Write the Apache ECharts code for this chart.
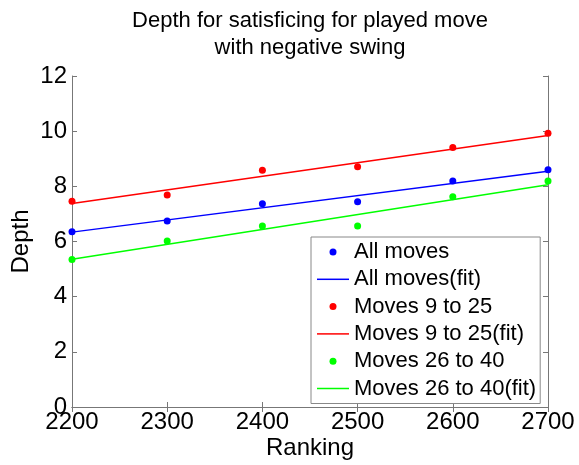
<!DOCTYPE html>
<html>
<head>
<meta charset="utf-8">
<script src="https://cdn.jsdelivr.net/npm/echarts@6/dist/echarts.min.js"></script>
<style>
  html, body { margin: 0; padding: 0; background: #fff; }
  #chart { width: 579px; height: 465px; }
</style>
</head>
<body>
<div id="chart"></div>
<script>
const rankings = [2200, 2300, 2400, 2500, 2600, 2700];
const allMoves = [6.35, 6.74, 7.37, 7.44, 8.19, 8.60];
const moves9to25 = [7.46, 7.69, 8.58, 8.71, 9.41, 9.92];
const moves26to40 = [5.35, 6.02, 6.56, 6.56, 7.62, 8.19];

// fitted lines, read at both ends of the x range
const fitX = [2200, 2700];
const allMovesFit = [6.34, 8.55];
const moves9to25Fit = [7.38, 9.84];
const moves26to40Fit = [5.36, 8.06];

const FONT = '"Liberation Sans", Arial, Helvetica, sans-serif';
const AXIS_COLOR = '#777';
const LINE_ICON = 'path://M0,0L32,0L32,1.5L0,1.5Z';

const pairs = (xs, ys) => xs.map((x, i) => [x, ys[i]]);

const dots = (name, values, color) => ({
    name,
    type: 'scatter',
    data: pairs(rankings, values),
    symbol: 'circle',
    symbolSize: 7,
    itemStyle: { color, opacity: 1 },
    xAxisIndex: 0,
    yAxisIndex: 0,
    silent: true,
});

const fit = (name, values, color) => ({
    name,
    type: 'line',
    data: pairs(fitX, values),
    symbol: 'none',
    lineStyle: { color, width: 1.5 },
    itemStyle: { color },
    xAxisIndex: 0,
    yAxisIndex: 0,
    silent: true,
});

const chart = echarts.init(document.getElementById('chart'));

const sideAxis = {
    axisLine: { show: true, lineStyle: { color: AXIS_COLOR, width: 1 } },
    axisTick: { show: true, inside: true, length: 5, lineStyle: { color: AXIS_COLOR } },
    splitLine: { show: false },
};

chart.setOption({
    animation: false,
    backgroundColor: '#fff',
    textStyle: { fontFamily: FONT },
    title: {
        text: 'Depth for satisficing for played move\nwith negative swing',
        left: 310,
        top: 7,
        padding: 0,
        textAlign: 'center',
        textStyle: {
            fontFamily: FONT,
            fontSize: 22,
            fontWeight: 'normal',
            lineHeight: 27,
            color: '#000',
        },
    },
    grid: {
        left: 72,
        right: 31,
        top: 76,
        bottom: 58,
        outerBoundsMode: 'none',
    },
    xAxis: [
        {
            type: 'value',
            min: 2200,
            max: 2700,
            interval: 100,
            position: 'bottom',
            name: 'Ranking',
            nameLocation: 'middle',
            nameGap: 29,
            nameMoveOverlap: false,
            nameTextStyle: { fontFamily: FONT, fontSize: 24, color: '#000' },
            axisLabel: {
                fontFamily: FONT, fontSize: 24, color: '#000', margin: 3,
                formatter: (v) => String(v),
            },
            ...sideAxis,
        },
        {
            type: 'value',
            min: 2200,
            max: 2700,
            interval: 100,
            position: 'top',
            axisLabel: { show: false },
            ...sideAxis,
        },
    ],
    yAxis: [
        {
            type: 'value',
            min: 0,
            max: 12,
            interval: 2,
            position: 'left',
            name: 'Depth',
            nameLocation: 'middle',
            nameGap: 39,
            nameMoveOverlap: false,
            nameTextStyle: { fontFamily: FONT, fontSize: 24, color: '#000' },
            axisLabel: { fontFamily: FONT, fontSize: 24, color: '#000', margin: 5 },
            ...sideAxis,
        },
        {
            type: 'value',
            min: 0,
            max: 12,
            interval: 2,
            position: 'right',
            axisLabel: { show: false },
            ...sideAxis,
        },
    ],
    legend: {
        orient: 'vertical',
        left: 311,
        top: 237,
        padding: [4, 4, 4, 6],
        itemWidth: 32,
        itemHeight: 7,
        itemGap: 5.3,
        selectedMode: false,
        backgroundColor: '#fff',
        borderColor: '#888',
        borderWidth: 1,
        borderRadius: 0,
        itemStyle: { borderWidth: 0, opacity: 1 },
        textStyle: { fontFamily: FONT, fontSize: 22, lineHeight: 22, color: '#000' },
        data: [
            { name: 'All moves', icon: 'circle' },
            { name: 'All moves(fit)', icon: LINE_ICON },
            { name: 'Moves 9 to 25', icon: 'circle' },
            { name: 'Moves 9 to 25(fit)', icon: LINE_ICON },
            { name: 'Moves 26 to 40', icon: 'circle' },
            { name: 'Moves 26 to 40(fit)', icon: LINE_ICON },
        ],
    },
    series: [
        dots('All moves', allMoves, '#0000ff'),
        fit('All moves(fit)', allMovesFit, '#0000ff'),
        dots('Moves 9 to 25', moves9to25, '#ff0000'),
        fit('Moves 9 to 25(fit)', moves9to25Fit, '#ff0000'),
        dots('Moves 26 to 40', moves26to40, '#00ff00'),
        fit('Moves 26 to 40(fit)', moves26to40Fit, '#00ff00'),
    ],
});

window.addEventListener('resize', chart.resize);
</script>
</body>
</html>
